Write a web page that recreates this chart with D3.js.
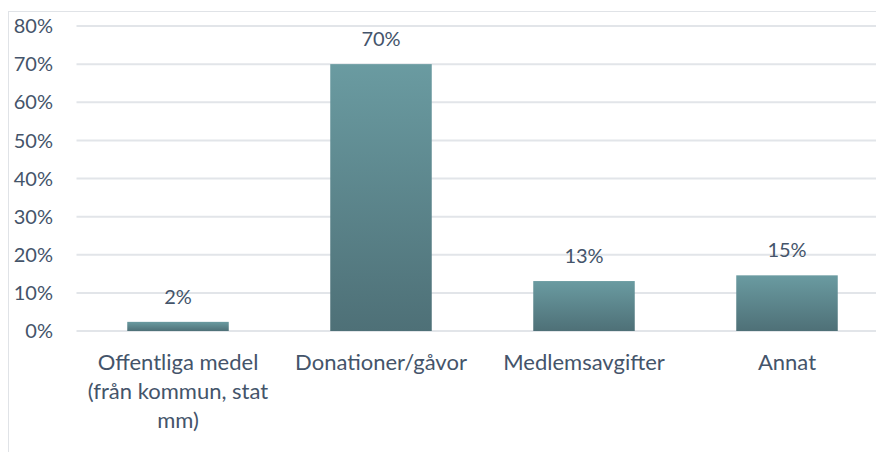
<!DOCTYPE html>
<html>
<head>
<meta charset="utf-8">
<script src="https://cdn.jsdelivr.net/npm/d3@7"></script>
<style>
  body { margin: 0; background: #fff; }
  text { font-family: Lato, "Open Sans", sans-serif; fill: #44546a; }
</style>
</head>
<body>
<div id="chart"></div>
<script>
// categories (line breaks as in the original)
const categories = ["Offentliga medel\n(från kommun, stat\nmm)", "Donationer/gåvor", "Medlemsavgifter", "Annat"];
const values = [0.024, 0.70, 0.131, 0.146];
const tickValues = [0, 0.1, 0.2, 0.3, 0.4, 0.5, 0.6, 0.7, 0.8];

const W = 876, H = 452;
const plot = { left: 76.5, right: 888.5, top: 26, bottom: 331 };
const numSize = 20;   // ticks + value labels
const catSize = 22;   // category labels

const svg = d3.select("#chart")
  .append("svg")
  .attr("width", W)
  .attr("height", H);

// gradient for bars
const grad = svg.append("defs").append("linearGradient")
  .attr("id", "barGrad")
  .attr("x1", 0).attr("y1", 0).attr("x2", 0).attr("y2", 1);
grad.append("stop").attr("offset", "0%").attr("stop-color", "#6a9ba1");
grad.append("stop").attr("offset", "100%").attr("stop-color", "#4e7077");

// chart frame
svg.append("rect")
  .attr("x", 8.5).attr("y", 11.5)
  .attr("width", 1000).attr("height", 1000)
  .attr("fill", "none")
  .attr("stroke", "#e0e3e7");

const x = d3.scaleBand()
  .domain(categories)
  .range([plot.left, plot.right])
  .paddingInner(0.5)
  .paddingOuter(0.25);

const y = d3.scaleLinear()
  .domain([0, 0.8])
  .range([plot.bottom, plot.top]);

const fmt = d3.format(".0%");

// gridlines
svg.selectAll(".grid")
  .data(tickValues)
  .enter().append("line")
  .attr("x1", plot.left).attr("x2", plot.right)
  .attr("y1", d => y(d)).attr("y2", d => y(d))
  .attr("stroke", "#e2e5e9")
  .attr("stroke-width", 2);

// y tick labels
svg.selectAll(".ytick")
  .data(tickValues)
  .enter().append("text")
  .attr("x", 53)
  .attr("y", d => y(d))
  .attr("dy", "0.36em")
  .style("text-anchor", "end")
  .style("font-size", numSize + "px")
  .text(d => fmt(d));

// bars
svg.selectAll(".bar")
  .data(values)
  .enter().append("rect")
  .attr("x", (d, i) => x(categories[i]))
  .attr("width", x.bandwidth())
  .attr("y", d => y(d))
  .attr("height", d => y(0) - y(d))
  .attr("fill", "url(#barGrad)");

// value labels
svg.selectAll(".val")
  .data(values)
  .enter().append("text")
  .attr("x", (d, i) => x(categories[i]) + x.bandwidth() / 2)
  .attr("y", d => y(d) - 18)
  .style("text-anchor", "middle")
  .style("font-size", numSize + "px")
  .text(d => fmt(d));

// category labels
const cat = svg.selectAll(".cat")
  .data(categories)
  .enter().append("text")
  .attr("x", d => x(d) + x.bandwidth() / 2)
  .attr("y", 370)
  .style("text-anchor", "middle")
  .style("font-size", catSize + "px");

cat.selectAll("tspan")
  .data(d => d.split("\n").map(s => ({ s: s, cx: x(d) + x.bandwidth() / 2 })))
  .enter().append("tspan")
  .attr("x", d => d.cx)
  .attr("dy", (d, i) => i === 0 ? 0 : 29)
  .text(d => d.s);
</script>
</body>
</html>
